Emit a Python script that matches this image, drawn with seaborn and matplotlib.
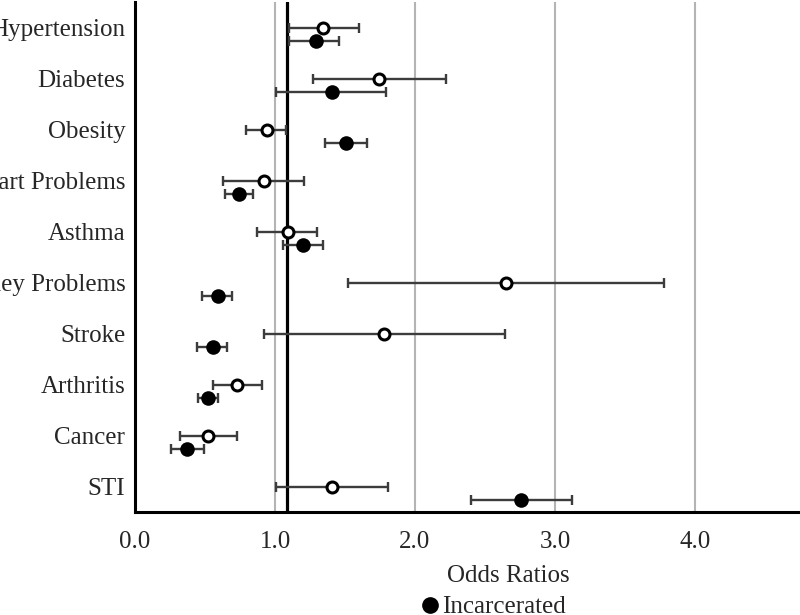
import numpy as np
import pandas as pd
import matplotlib
matplotlib.use("Agg")
import matplotlib.pyplot as plt
from matplotlib.lines import Line2D
import seaborn as sns

# conditions, top to bottom
conditions = ["Hypertension", "Diabetes", "Obesity", "Heart Problems", "Asthma",
              "Kidney Problems", "Stroke", "Arthritis", "Cancer", "STI"]

# incarcerated (filled)
inc_or = [1.29, 1.41, 1.51, 0.74, 1.20, 0.59, 0.56, 0.52, 0.37, 2.76]
inc_lo = [1.10, 1.01, 1.36, 0.64, 1.06, 0.48, 0.44, 0.45, 0.26, 2.40]
inc_hi = [1.46, 1.79, 1.66, 0.84, 1.34, 0.69, 0.66, 0.59, 0.49, 3.12]

# other group (open circles)
oth_or = [1.34, 1.74, 0.94, 0.92, 1.09, 2.65, 1.78, 0.73, 0.52, 1.41]
oth_lo = [1.10, 1.27, 0.79, 0.63, 0.87, 1.52, 0.92, 0.56, 0.32, 1.01]
oth_hi = [1.60, 2.22, 1.08, 1.21, 1.30, 3.78, 2.64, 0.91, 0.73, 1.81]

ref_line = 1.085
xticks = [0.0, 1.0, 2.0, 3.0, 4.0]

sns.set_theme(style="white")
plt.rcParams['font.family'] = ['Liberation Serif', 'DejaVu Serif']

pos = np.arange(len(conditions))
inc = pd.DataFrame({"cond": conditions, "OR": inc_or, "lo": inc_lo, "hi": inc_hi, "y": pos + 0.26})
oth = pd.DataFrame({"cond": conditions, "OR": oth_or, "lo": oth_lo, "hi": oth_hi, "y": pos + 0.0})

fig = plt.figure(figsize=(8, 6.15), dpi=100)
ax = fig.add_axes([135/800, 103/615, 665/800, 510/615])

for xt in xticks[1:]:
    ax.axvline(xt, color="#b4b4b4", lw=1.5, zorder=0)
ax.axvline(ref_line, color="black", lw=2.3, zorder=1)

for d in (oth, inc):
    ax.errorbar(d["OR"], d["y"], xerr=[d["OR"] - d["lo"], d["hi"] - d["OR"]],
                fmt="none", ecolor="#3c3c3c", elinewidth=1.7, capsize=3.3, capthick=1.7, zorder=2)

sns.scatterplot(data=oth, x="OR", y="y", ax=ax, marker="o", s=62, facecolor="white",
                edgecolor="black", linewidth=2.2, zorder=3)
sns.scatterplot(data=inc, x="OR", y="y", ax=ax, marker="o", s=110, color="black",
                linewidth=0, zorder=3)

ax.set_xlim(0, 4.75)
ax.set_ylim(9.5, -0.5)
ax.set_yticks(pos)
ax.set_yticklabels(conditions, fontsize=18)
ax.set_yticks(np.arange(-0.5, 10, 1.0), minor=True)
ax.tick_params(axis="y", which="major", length=0, pad=7)
ax.tick_params(axis="y", which="minor", length=11, width=2.2, direction="inout", color="black")
ax.set_xticks(xticks)
ax.set_xticklabels([f"{v:.1f}" for v in xticks], fontsize=18)
ax.tick_params(axis="x", length=0, pad=14)

for s in ["top", "right"]:
    ax.spines[s].set_visible(False)
for s in ["left", "bottom"]:
    ax.spines[s].set_color("black")
    ax.spines[s].set_linewidth(2.2)

ax.set_xlabel("Odds Ratios", fontsize=18)
ax.xaxis.set_label_coords((508 - 135) / 665, -0.103)
ax.set_ylabel("")

handle = Line2D([], [], marker="o", color="black", linestyle="none", markersize=11)
fig.legend([handle], ["Incarcerated"], loc="center", bbox_to_anchor=(494/800, 1 - 607/615),
           frameon=False, fontsize=18, handlelength=0.6, handletextpad=0.2, borderpad=0)

fig.savefig("out.png", dpi=100)
